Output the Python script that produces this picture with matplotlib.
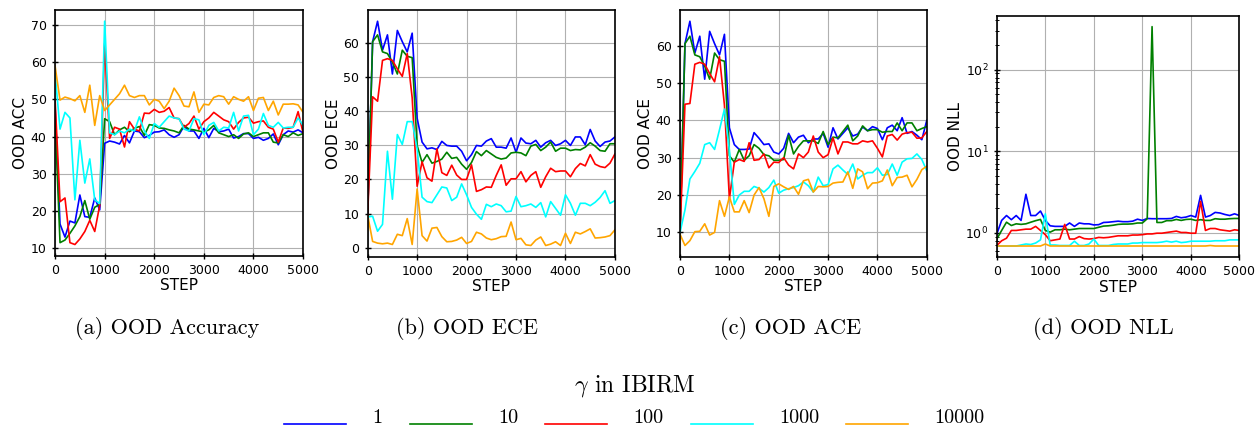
import numpy as np
import matplotlib
matplotlib.use("Agg")
import matplotlib.pyplot as plt
from matplotlib.lines import Line2D
from matplotlib.legend_handler import HandlerLine2D

steps = list(range(0, 5001, 100))
gammas = ["1", "10", "100", "1000", "10000"]
colors = ["blue", "green", "red", "cyan", "orange"]

# ---------------- OOD Accuracy ----------------
acc_1 = [48, 16.5, 13, 17.3, 16.8, 24.3, 18.5, 18.3, 23.5, 20.3, 38.2, 38.8, 38.5, 38, 40.3, 38.3, 41.5, 41.3, 39.7, 40.3,
         41.2, 41.3, 41.8, 40.5, 39.8, 40.5, 42.8, 41.5, 41.5, 39.5, 42.2, 39.7, 42.2, 41.3, 41.5, 42, 39.6, 40, 40.8, 40.8,
         39.5, 39.8, 39, 39.5, 40.7, 37.8, 40.5, 41.5, 41.2, 41.8, 41]
acc_10 = [45, 11.5, 12.2, 14, 16, 18.5, 22.8, 17.8, 21, 21.8, 44.8, 44, 40.5, 41.8, 42.5, 41.3, 42.2, 42.7, 40.3, 43.2,
          43, 42.3, 42.2, 41.8, 41.5, 41, 43, 42, 41.8, 41.5, 41.2, 41.8, 43, 41, 40.5, 40, 40.5, 39.5, 40.7, 41,
          40, 40.5, 41, 41, 38.5, 38.3, 40.5, 40, 41, 40.3, 40.8]
acc_100 = [50, 22.5, 23.5, 11.5, 11, 12.5, 14.5, 17.5, 14.5, 21.5, 65, 39.5, 42.5, 42, 37.2, 44, 42, 41.5, 46.3, 46.2,
           47.3, 46.5, 46.8, 47.8, 45, 44.8, 42.5, 43.5, 45.5, 42, 44, 45, 46.5, 45.5, 44.5, 44, 42, 43.8, 45, 45.2,
           43.6, 44, 44.2, 42.5, 42, 38.5, 42.3, 42.2, 42.5, 46.7, 41]
acc_1000 = [57, 42, 46.5, 45, 23, 39, 27.5, 34, 23, 22, 71, 41, 40.5, 41.5, 41, 42, 41.5, 45.3, 41.5, 39.5,
            43.5, 42.5, 44, 45.5, 45, 44.8, 42, 41.5, 44.8, 44.5, 40.5, 43, 43.8, 41.5, 42.5, 42.3, 46.5, 41.5, 45.5, 45.7,
            40.5, 42, 46.2, 43, 42.5, 43.8, 42.3, 42.5, 42.5, 45, 43]
acc_10000 = [59, 49.8, 50.6, 50.2, 49.6, 51, 46.5, 53.8, 43, 51, 47, 48.5, 50, 51.5, 53.8, 51, 50.5, 51, 51, 48.5,
             50, 49.5, 47.5, 49.5, 53, 51, 48.2, 48, 52, 46.5, 48.7, 48.5, 50.5, 51, 50.7, 48.7, 50.7, 50, 49.5, 50.7,
             47, 50.3, 50.5, 47, 49.5, 45.8, 48.7, 48.7, 48.8, 48.5, 46.5]

# ---------------- OOD ECE ----------------
ece_1 = [10, 60.5, 66.5, 58, 62.5, 51, 63.8, 60.5, 57.5, 63, 38, 31, 29, 29.3, 28.8, 31.2, 30, 29.8, 29.8, 28.3,
         25.5, 27.3, 30, 29.8, 31.3, 32, 29.5, 29.5, 29.2, 32.2, 28, 32.2, 30.7, 30.5, 31.5, 29.5, 30.8, 31.5, 30, 30.5,
         31.5, 30, 32.5, 32.5, 30.2, 34.7, 31.3, 29.7, 31, 31.3, 32.5]
ece_10 = [10, 60.5, 62.5, 57.5, 57, 54.5, 51, 58, 56.2, 55.8, 30, 25, 27.3, 24.8, 25.3, 26, 28, 26.2, 26.5, 24.5,
          23, 25, 28.2, 27, 28.5, 27.5, 26.5, 26, 26.3, 27.8, 28, 27.8, 27, 29.8, 30.3, 28.5, 29.5, 31, 28.3, 29.2,
          29.2, 28.5, 28.8, 28.7, 29.5, 30.8, 29.8, 28.5, 28.3, 30.5, 30.5]
ece_100 = [10, 44.3, 43, 55, 55.5, 55, 52.5, 50.3, 57, 44, 18, 25.2, 20.5, 19.5, 29, 22, 21.2, 24.2, 21.3, 20,
           20, 24.3, 16.5, 17, 17.8, 17.7, 21.2, 24.3, 18.3, 20.2, 20.2, 22.3, 19.3, 21.2, 22.3, 17.7, 20.8, 23.3, 22.3, 22.5,
           22.5, 20.8, 23.2, 24.7, 24, 27.3, 24.5, 23.8, 23.5, 24.8, 27.5]
ece_1000 = [9, 9.2, 4.8, 6.8, 28.3, 14.2, 33.2, 30.3, 37, 37, 29, 14.8, 13.5, 13.2, 15.5, 17.8, 17.5, 13.8, 14.8, 18.7,
            15.5, 11.8, 9.8, 8.3, 12.7, 12, 12.8, 12.3, 10.5, 10.7, 15, 12, 12.3, 12.8, 11.8, 13.2, 9, 13.5, 11.5, 9.5,
            15.5, 13, 9.5, 13, 13, 12.3, 13.3, 14.7, 16.7, 13, 13.8]
ece_10000 = [9.5, 1.8, 1.3, 1.1, 1.3, 0.9, 3.9, 3.5, 8.5, 0.9, 17.2, 3.5, 1.9, 5.7, 5.9, 3.2, 1.7, 1.8, 2.2, 3,
             1.2, 1.8, 4.5, 4, 2.8, 2.3, 2.6, 3.2, 3.3, 7.5, 2.3, 2.7, 0.8, 0.6, 2.2, 3.1, 0.6, 1, 1.7, 0.6,
             4.2, 1.2, 4.5, 4, 4.7, 5.5, 2.8, 2.9, 3.1, 3.5, 5.2]

# ---------------- OOD ACE ----------------
ace_1 = [10, 60.5, 66.5, 58, 62.5, 51, 63.8, 60.5, 57.5, 63, 38, 33.5, 32.2, 32.2, 32.3, 36.7, 35.2, 33.5, 33.7, 31.5,
         31, 32.5, 36.5, 34, 35.5, 36, 34, 35, 35, 36.5, 32.8, 38, 35, 36.5, 38, 35.8, 36.3, 38.2, 37.2, 38.3,
         37.8, 34.8, 38, 38.7, 37.2, 40.7, 36.5, 37, 36, 34.8, 40]
ace_10 = [10, 60.5, 62.5, 57.5, 57, 54.5, 51, 58, 56.2, 55.8, 30.5, 28.8, 32.2, 29.3, 30.5, 33.5, 32.5, 30.8, 30.5, 29.3,
          29.3, 29.5, 36, 31, 33, 34.5, 34.5, 34.5, 33.8, 37, 33.5, 35.5, 35.3, 37, 38.7, 34.5, 35.8, 38.5, 37.2, 37.5,
          37.5, 36.8, 37, 37, 39.3, 37.2, 39.3, 39.3, 37.2, 37.8, 38.3]
ace_100 = [10, 44.3, 44.5, 55, 55.5, 55, 52.5, 50.3, 57, 44, 19, 28.8, 29.5, 29, 34, 29.3, 29.5, 31, 27.3, 28.8,
           28.7, 30, 28, 27, 31, 30, 31.5, 35.8, 31.5, 30, 30.8, 35.3, 31, 34.2, 34.2, 33.7, 33.7, 34.5, 34.2, 34.5,
           32.5, 30.2, 35.8, 36.2, 34.7, 36.3, 36.7, 36.8, 35.2, 35.3, 37]
ace_1000 = [10, 16, 24.3, 26.3, 28.5, 33.5, 34, 32.2, 37.5, 43, 32, 17.5, 20, 21, 21, 22.3, 21.8, 20.8, 22, 24,
            20.5, 21.3, 21.7, 22, 22.5, 23.5, 22.5, 20.8, 24.8, 22.5, 22.8, 27, 28, 26.7, 25.5, 28.3, 24.3, 25.3, 26, 26,
            27.3, 25.3, 25.5, 28.3, 25.3, 28.8, 29.7, 29.8, 31, 29.5, 26.5]
ace_10000 = [9.5, 6.5, 7.8, 10.2, 10.3, 12.3, 9.3, 10, 18.5, 14.3, 19.5, 15.5, 15.5, 18.5, 15.3, 20, 22, 19, 14.3, 22.3,
             23, 22.2, 21.5, 22.3, 20.2, 23.8, 24.2, 20.8, 22.3, 22.2, 22.3, 23.2, 23.4, 23.5, 26.2, 21.8, 27, 26.2, 21.7, 23.2,
             23.3, 23.8, 26.7, 22.5, 24.7, 24.8, 25.3, 22.2, 24.2, 26.8, 27.7]

# ---------------- OOD NLL ----------------
nll_1 = [0.97, 1.42, 1.63, 1.45, 1.63, 1.42, 2.97, 1.63, 1.63, 1.85, 1.42, 1.22, 1.2, 1.2, 1.2, 1.32, 1.2, 1.32, 1.29, 1.29,
         1.25, 1.26, 1.34, 1.35, 1.37, 1.39, 1.37, 1.37, 1.39, 1.47, 1.42, 1.5, 1.49, 1.49, 1.49, 1.49, 1.5, 1.59, 1.53, 1.56,
         1.63, 1.56, 2.88, 1.56, 1.63, 1.78, 1.75, 1.68, 1.63, 1.71, 1.63]
nll_10 = [0.84, 1.07, 1.35, 1.23, 1.29, 1.27, 1.29, 1.35, 1.41, 1.46, 1.07, 1.02, 1.09, 1.09, 1.11, 1.09, 1.11, 1.13, 1.13, 1.13,
          1.13, 1.17, 1.21, 1.22, 1.24, 1.27, 1.28, 1.28, 1.29, 1.32, 1.32, 1.49, 336, 1.34, 1.34, 1.41, 1.41, 1.46, 1.42, 1.46,
          1.47, 1.42, 1.45, 1.42, 1.42, 1.49, 1.47, 1.47, 1.49, 1.5, 1.5]
nll_100 = [0.7, 0.8, 0.86, 1.07, 1.07, 1.09, 1.11, 1.11, 1.2, 1.07, 0.95, 0.8, 0.82, 0.84, 1.27, 0.84, 0.84, 0.9, 0.85, 0.84,
           0.85, 0.88, 0.87, 0.88, 0.9, 0.92, 0.92, 0.92, 0.94, 0.94, 0.95, 0.97, 0.97, 0.99, 0.99, 1.01, 1.03, 1.05, 1.01, 1.01,
           0.99, 0.99, 2.43, 1.07, 1.13, 1.13, 1.09, 1.07, 1.05, 1.09, 1.07]
nll_1000 = [0.69, 0.69, 0.69, 0.69, 0.69, 0.71, 0.73, 0.72, 0.75, 0.82, 1.71, 0.71, 0.71, 0.7, 0.7, 0.7, 0.79, 0.7, 0.7, 0.73,
            0.84, 0.7, 0.7, 0.7, 0.72, 0.73, 0.73, 0.73, 0.75, 0.75, 0.76, 0.76, 0.76, 0.76, 0.77, 0.79, 0.77, 0.79, 0.76, 0.77,
            0.79, 0.79, 0.79, 0.79, 0.79, 0.8, 0.8, 0.8, 0.82, 0.82, 0.82]
nll_10000 = [0.69, 0.69, 0.69, 0.69, 0.69, 0.69, 0.69, 0.69, 0.69, 0.69, 0.73, 0.69, 0.69, 0.69, 0.69, 0.69, 0.69, 0.69, 0.69, 0.69,
             0.69, 0.69, 0.69, 0.69, 0.69, 0.69, 0.69, 0.69, 0.69, 0.69, 0.69, 0.69, 0.69, 0.69, 0.69, 0.69, 0.69, 0.69, 0.69, 0.69,
             0.69, 0.69, 0.69, 0.69, 0.7, 0.69, 0.69, 0.69, 0.69, 0.69, 0.69]

panels = [
    ("OOD ACC", "(a) OOD Accuracy", [acc_1, acc_10, acc_100, acc_1000, acc_10000], False),
    ("OOD ECE", "(b) OOD ECE", [ece_1, ece_10, ece_100, ece_1000, ece_10000], False),
    ("OOD ACE", "(c) OOD ACE", [ace_1, ace_10, ace_100, ace_1000, ace_10000], False),
    ("OOD NLL", "(d) OOD NLL", [nll_1, nll_10, nll_100, nll_1000, nll_10000], True),
]

positions = [
    [0.0438, 0.404, 0.1973, 0.5727],
    [0.2925, 0.4016, 0.1967, 0.575],
    [0.5410, 0.4016, 0.1963, 0.575],
    [0.7930, 0.4010, 0.1930, 0.5625],
]
caption_x = [167, 467, 791, 1103]

plt.rcParams["mathtext.fontset"] = "cm"

fig = plt.figure(figsize=(12.57, 4.29), dpi=100)
for (ylab, cap, series, logy), pos, cx in zip(panels, positions, caption_x):
    ax = fig.add_axes(pos)
    for vals, c in zip(series, colors):
        ax.plot(steps, vals, color=c, lw=1.2)
    if logy:
        ax.set_yscale("log")
    ax.set_xlim(0, 5000)
    ax.set_xticks([0, 1000, 2000, 3000, 4000, 5000])
    ax.grid(True, color="#b0b0b0", lw=0.8)
    ax.set_axisbelow(True)
    ax.set_xlabel("STEP", fontsize=11, labelpad=1)
    ax.set_ylabel(ylab, fontsize=11, labelpad=2)
    ax.tick_params(which="major", labelsize=9, direction="inout", length=5, width=1)
    ax.tick_params(which="minor", direction="inout", length=3, width=0.7)
    for s in ax.spines.values():
        s.set_linewidth(1.2)
    fig.text(cx / 1257, 1 - 334 / 429, cap, ha="center", va="baseline",
             fontsize=16, family="cmr10")


class LowLineHandler(HandlerLine2D):
    def create_artists(self, legend, orig_handle, xdescent, ydescent, width, height, fontsize, trans):
        arts = super().create_artists(legend, orig_handle, xdescent, ydescent, width, height, fontsize, trans)
        for a in arts:
            if isinstance(a, Line2D):
                y = np.asarray(a.get_ydata(), dtype=float)
                a.set_ydata(y - 0.38 * fontsize)
        return arts


handles = [Line2D([], [], color=c, lw=1.2) for c in colors]
leg = fig.legend(handles, gammas, loc="center", bbox_to_anchor=(0.5048, 0.068), ncol=5,
                 frameon=False, title=r"$\gamma$ in IBIRM", handlelength=3.08,
                 handletextpad=1.3, columnspacing=1.35,
                 handler_map={Line2D: LowLineHandler()},
                 prop={"family": "cmr10", "size": 14.5},
                 title_fontproperties={"family": "cmr10", "size": 17})
fig.savefig("out.png", dpi=100)
